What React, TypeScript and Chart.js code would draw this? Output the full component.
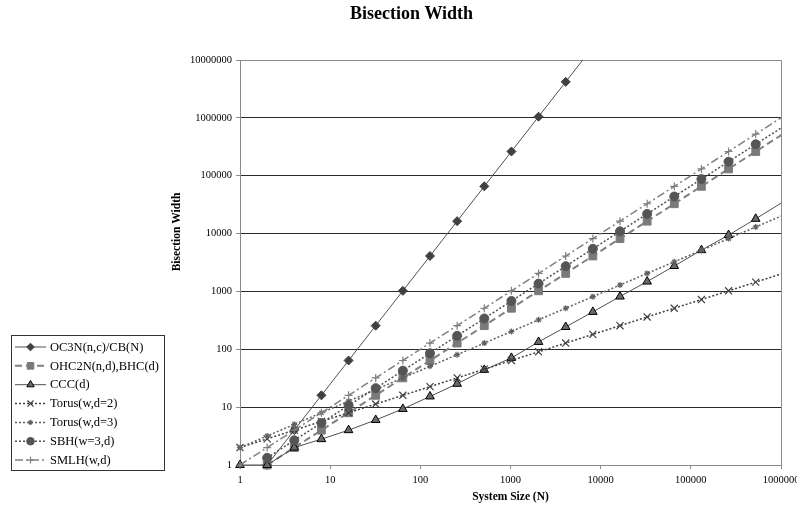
import React, { useEffect, useRef } from "react";
import { Chart, registerables } from "chart.js";
import { drawPoint } from "chart.js/helpers";

Chart.register(...registerables);

// ---------- data ----------
const sizes = [1, 2, 4, 8, 16, 32, 64, 128, 256, 512, 1024, 2048, 4096, 8192, 16384, 32768, 65536, 131072, 262144, 524288, 1048576];

const oc3n = [null, 1, 4, 16, 64, 256, 1024, 4096, 16384, 65536, 262144, 1048576, 4194304, 16777216, null, null, null, null, null, null, null];
const ohc2n = [null, 1, 2, 4, 8, 16, 32, 64, 128, 256, 512, 1024, 2048, 4096, 8192, 16384, 32768, 65536, 131072, 262144, 524288];
const ccc = [1, 1, 2, 2.8, 4, 6, 9.3, 15.3, 25.3, 44, 71, 134, 243, 443, 816, 1480, 2750, 5170, 9420, 18000, 35000];
const torus2 = [2, 2.83, 4, 5.66, 8, 11.3, 16, 22.6, 32, 45.3, 64, 90.5, 128, 181, 256, 362, 512, 724, 1024, 1448, 2048];
const torus3 = [2, 3.17, 5.04, 8, 12.7, 20.2, 32, 50.8, 80.6, 128, 203, 323, 512, 813, 1290, 2048, 3251, 5161, 8192, 13004, 20643];
const sbh = [null, 1.33, 2.67, 5.33, 10.7, 21.3, 42.7, 85.3, 171, 341, 683, 1365, 2731, 5461, 10923, 21845, 43691, 87381, 174763, 349525, 699051];
const smlh = [1, 2, 4, 8, 16, 32, 64, 128, 256, 512, 1024, 2048, 4096, 8192, 16384, 32768, 65536, 131072, 262144, 524288, 1048576];

const xTicks = [1, 10, 100, 1000, 10000, 100000, 1000000];
const xTickLabels = ["1", "10", "100", "1000", "10000", "100000", "1000000"];
const yTicks = [1, 10, 100, 1000, 10000, 100000, 1000000, 10000000];
const yTickLabels = ["1", "10", "100", "1000", "10000", "100000", "1000000", "10000000"];

const chartTitle = "Bisection Width";
const xTitle = "System Size (N)";
const yTitle = "Bisection Width";

// ---------- styles ----------
const FONT = "'Liberation Serif', 'Times New Roman', serif";

const series = [
  { label: "OC3N(n,c)/CB(N)", values: oc3n, color: "#505050", width: 1, dash: [] as number[], pointStyle: "rectRot", radius: 4.5, fill: "#404040", pBorder: "#404040", pWidth: 1 },
  { label: "OHC2N(n,d),BHC(d)", values: ohc2n, color: "#808080", width: 2, dash: [7, 4], pointStyle: "rect", radius: 5.5, fill: "#7a7a7a", pBorder: "#7a7a7a", pWidth: 1 },
  { label: "CCC(d)", values: ccc, color: "#505050", width: 1, dash: [] as number[], pointStyle: "triangle", radius: 5, fill: "#6a6a6a", pBorder: "#000000", pWidth: 1 },
  { label: "Torus(w,d=2)", values: torus2, color: "#404040", width: 1.5, dash: [2, 2], pointStyle: "crossRot", radius: 5, fill: "#404040", pBorder: "#404040", pWidth: 1.2 },
  { label: "Torus(w,d=3)", values: torus3, color: "#606060", width: 1.5, dash: [2, 2], pointStyle: "star", radius: 3, fill: "#606060", pBorder: "#606060", pWidth: 1.2 },
  { label: "SBH(w=3,d)", values: sbh, color: "#505050", width: 1.5, dash: [2, 2], pointStyle: "circle", radius: 4.5, fill: "#555555", pBorder: "#555555", pWidth: 1 },
  { label: "SMLH(w,d)", values: smlh, color: "#808080", width: 1.5, dash: [8, 3, 2, 3], pointStyle: "cross", radius: 4, fill: "#808080", pBorder: "#808080", pWidth: 1.2 },
];

const X_MAX = 1000000;
const Y_MAX = 10000000;

const framePlugin = {
  id: "frame",
  beforeDatasetsDraw(chart: any) {
    const { ctx, chartArea: a } = chart;
    ctx.save();
    ctx.strokeStyle = "#8a8a8a";
    ctx.lineWidth = 1;
    ctx.setLineDash([]);
    ctx.beginPath();
    const r = Math.round(a.right) + 0.5;
    const t = Math.round(a.top) + 0.5;
    ctx.moveTo(Math.round(a.left), t);
    ctx.lineTo(r, t);
    ctx.lineTo(r, Math.round(a.bottom) + 1);
    ctx.stroke();
    ctx.restore();
  },
};

const extrasPlugin = {
  id: "extras",
  afterDraw(chart: any) {
    const { ctx } = chart;
    ctx.save();
    // y-axis title
    ctx.translate(177, 232);
    ctx.rotate(-Math.PI / 2);
    ctx.font = `bold 11.5px ${FONT}`;
    ctx.fillStyle = "#000";
    ctx.textAlign = "center";
    ctx.textBaseline = "middle";
    ctx.fillText(yTitle, 0, 0);
    ctx.restore();

    // legend
    ctx.save();
    ctx.fillStyle = "#ffffff";
    ctx.fillRect(12, 335, 153, 135);
    ctx.strokeStyle = "#333";
    ctx.lineWidth = 1;
    ctx.strokeRect(11.5, 335.5, 153, 135);
    series.forEach((s, i) => {
      const y = 347 + i * 18.85;
      ctx.save();
      ctx.strokeStyle = s.color;
      ctx.lineWidth = s.width;
      ctx.setLineDash(s.dash);
      ctx.beginPath();
      ctx.moveTo(15, y);
      ctx.lineTo(46, y);
      ctx.stroke();
      ctx.setLineDash([]);
      ctx.fillStyle = s.fill;
      ctx.strokeStyle = s.pBorder;
      ctx.lineWidth = s.pWidth;
      drawPoint(ctx, { pointStyle: s.pointStyle, radius: s.radius * 0.85, rotation: 0, borderWidth: s.pWidth }, 30.5, y);
      ctx.restore();
      ctx.font = `12.5px ${FONT}`;
      ctx.fillStyle = "#000";
      ctx.textAlign = "left";
      ctx.textBaseline = "middle";
      ctx.fillText(s.label, 50, y + 0.5);
    });
    ctx.restore();
  },
};

export default function App() {
  const ref = useRef<HTMLCanvasElement | null>(null);

  useEffect(() => {
    if (!ref.current) return;
    const chart = new Chart(ref.current, {
      type: "scatter",
      data: {
        datasets: series.map((s, i) => ({
          label: s.label,
          data: sizes.map((x, j) => ({ x, y: s.values[j] as any })),
          showLine: true,
          borderColor: s.color,
          borderWidth: s.width,
          borderDash: s.dash,
          backgroundColor: s.fill,
          pointStyle: s.pointStyle as any,
          pointRadius: (c: any) => (c.raw && (c.raw.x > X_MAX || c.raw.y > Y_MAX) ? 0 : s.radius),
          pointHoverRadius: s.radius,
          pointBackgroundColor: s.fill,
          pointBorderColor: s.pBorder,
          pointBorderWidth: s.pWidth,
          tension: 0,
          fill: false,
          order: series.length - i,
          clip: { left: 8, top: 0, right: 0, bottom: 8 } as any,
        })),
      },
      options: {
        animation: false,
        responsive: false,
        devicePixelRatio: 1,
        layout: { padding: { left: 42, right: 16, top: 0, bottom: 0 } },
        plugins: {
          legend: { display: false },
          tooltip: { enabled: false },
          title: {
            display: true,
            text: chartTitle,
            color: "#000",
            font: { family: FONT, size: 18, weight: "bold" },
            padding: { top: 4, bottom: 34.4 },
          },
        },
        scales: {
          x: {
            type: "logarithmic",
            min: 1,
            max: X_MAX,
            afterBuildTicks: (axis: any) => {
              axis.ticks = xTicks.map((v) => ({ value: v }));
            },
            afterFit: (axis: any) => {
              axis.height = 45;
              axis.paddingRight = 0;
              axis.paddingLeft = 0;
            },
            ticks: {
              callback: (_v: any, i: number) => xTickLabels[i],
              color: "#000",
              font: { family: FONT, size: 10.5 },
              padding: 5,
              maxRotation: 0,
              autoSkip: false,
            },
            grid: { drawOnChartArea: false, tickColor: "#8a8a8a", tickLength: 4 },
            border: { color: "#8a8a8a", width: 1 },
            title: {
              display: true,
              text: xTitle,
              color: "#000",
              font: { family: FONT, size: 11.5, weight: "bold" },
              padding: { top: 0, bottom: 6 },
            },
          },
          y: {
            type: "logarithmic",
            min: 1,
            max: Y_MAX,
            afterBuildTicks: (axis: any) => {
              axis.ticks = yTicks.map((v) => ({ value: v }));
            },
            afterFit: (axis: any) => {
              axis.width = 198;
            },
            ticks: {
              callback: (_v: any, i: number) => yTickLabels[i],
              color: "#000",
              font: { family: FONT, size: 10.5 },
              padding: 4,
              autoSkip: false,
            },
            grid: {
              color: (c: any) => (c.tick && (c.tick.value === Y_MAX || c.tick.value === 1) ? "#8a8a8a" : "#2a2a2a"),
              tickColor: "#8a8a8a",
              tickLength: 4,
              lineWidth: 1,
            },
            border: { color: "#8a8a8a", width: 1 },
            title: { display: false },
          },
        },
      },
      plugins: [framePlugin, extrasPlugin],
    });
    return () => chart.destroy();
  }, []);

  return (
    <div style={{ position: "fixed", left: 0, top: 0, width: 797, height: 510, background: "#fff" }}>
      <canvas ref={ref} width={797} height={510} style={{ display: "block" }} />
    </div>
  );
}
